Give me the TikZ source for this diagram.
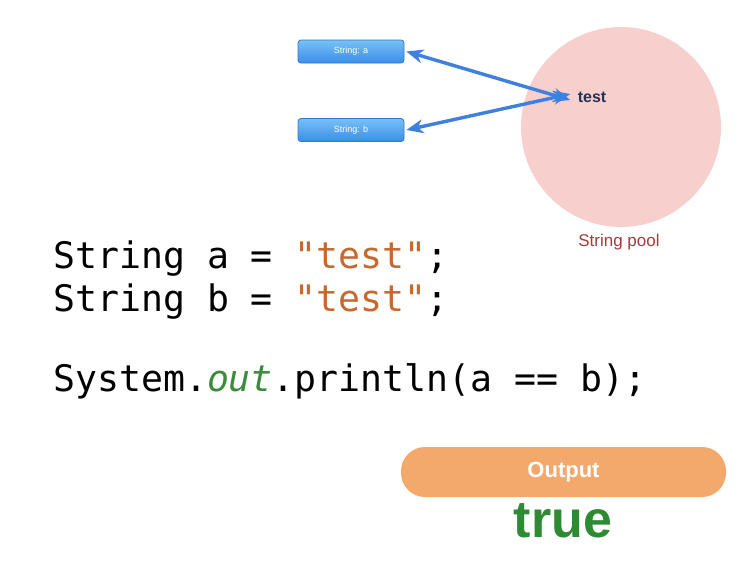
\documentclass[tikz,border=0pt]{standalone}
\usepackage{fontspec}
\setmainfont{Liberation Sans}
\newfontfamily\codefont{DejaVu Sans Mono}
\usepackage{xcolor}
\usetikzlibrary{arrows.meta,positioning}

\definecolor{refblue}{HTML}{3D80DE}
\definecolor{boxtop}{HTML}{78C0F7}
\definecolor{boxbot}{HTML}{3A8EE8}
\definecolor{boxline}{HTML}{2F79D0}
\definecolor{poolpink}{HTML}{F7CFCD}
\definecolor{poolred}{HTML}{A23B3B}
\definecolor{testnavy}{HTML}{243453}
\definecolor{strbrown}{HTML}{C8682C}
\definecolor{outgreen}{HTML}{3C8A3C}
\definecolor{outorange}{HTML}{F3A86C}
\definecolor{truegreen}{HTML}{2F8A34}

\begin{document}
\begin{tikzpicture}[
      x=1pt, y=-1pt,
      strbox/.style={rectangle, draw=boxline, line width=0.8pt, rounded corners=3pt,
                     top color=boxtop, bottom color=boxbot,
                     minimum width=106pt, minimum height=23pt,
                     text=white, font=\fontsize{9}{10}\selectfont},
      pool/.style={circle, fill=poolpink, minimum size=200pt, inner sep=0pt},
      pooltxt/.style={font=\fontsize{16}{18}\selectfont\bfseries, text=testnavy},
      code/.style={anchor=base west, inner sep=0pt,
                   font=\codefont\fontsize{36.5}{43}\selectfont},
      outbox/.style={rectangle, fill=outorange, rounded corners=24pt,
                     minimum width=325pt, minimum height=50pt,
                     text=white, font=\fontsize{22}{24}\selectfont\bfseries},
      arr/.style={{Stealth[length=17pt,width=14pt]}-{Stealth[length=17pt,width=14pt]},
                  line width=3.4pt, draw=refblue},
    ]
    \useasboundingbox (0,0) rectangle (750,562);

    % String pool
    \node[pool] (pool) at (621,127) {};
    \node[pooltxt] (test) at (592,97) {test};
    \node[font=\fontsize{17}{19}\selectfont, text=poolred] (plbl) at (619,242) {String pool};

    % References
    \node[strbox] (sa) at (351,51.5) {String: a};
    \node[strbox] (sb) at (351,130) {String: b};

    \draw[arr] ([xshift=2pt]sa.east) -- ([xshift=-4pt,yshift=-3pt]test.west);
    \draw[arr] ([xshift=2pt]sb.east) -- ([xshift=-4pt,yshift=3pt]test.west);

    % Code
    \node[code] (line1) at (53,268) {String a = \textcolor{strbrown}{"test"};};
    \node[code] (line2) at (53,311) {String b = \textcolor{strbrown}{"test"};};
    \node[code] (line3) at (53,391) {System.\textcolor{outgreen}{\itshape out}.println(a == b);};

    % Output
    \node[outbox] (out) at (563.5,472) {Output};
    \node[font=\fontsize{52}{56}\selectfont\bfseries, text=truegreen] (res) at (563,521) {true};

\end{tikzpicture}
\end{document}
